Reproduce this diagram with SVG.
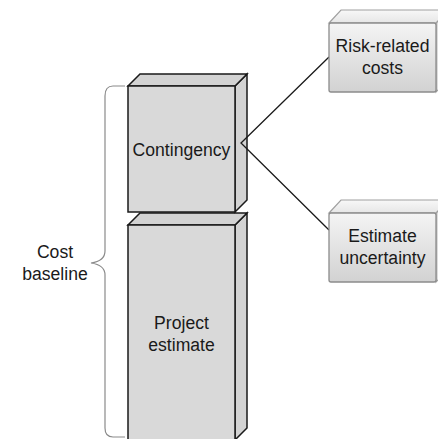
<svg xmlns="http://www.w3.org/2000/svg" width="438" height="439" viewBox="0 0 438 439">
  <defs>
    <linearGradient id="softFill" x1="0" y1="0" x2="0" y2="1">
      <stop offset="0" stop-color="#f4f4f4"/>
      <stop offset="1" stop-color="#d2d2d2"/>
    </linearGradient>
    <linearGradient id="softTop" x1="0" y1="0" x2="0" y2="1">
      <stop offset="0" stop-color="#f8f8f8"/>
      <stop offset="1" stop-color="#e6e6e6"/>
    </linearGradient>
    <style>
      .label { font-family: "Liberation Sans", Arial, sans-serif; font-size: 17.6px; fill: #1a1a1a; text-anchor: middle; }
      .block { fill: #d9d9d9; stroke: #1a1a1a; stroke-width: 1.5; stroke-linejoin: miter; }
      .blockSide { fill: #d3d3d3; stroke: #1a1a1a; stroke-width: 1.5; }
      .card { fill: url(#softFill); stroke: #8c8c8c; stroke-width: 1.3; }
      .cardTop { fill: url(#softTop); stroke: #a0a0a0; stroke-width: 1.2; }
      .cardSide { fill: #dcdcdc; stroke: #a0a0a0; stroke-width: 1.2; }
      .link { fill: none; stroke: #1a1a1a; stroke-width: 1.3; }
      .brace { fill: none; stroke: #8a8a8a; stroke-width: 1.2; }
    </style>
  </defs>

  <!-- bracket grouping both blocks -->
  <g id="cost-baseline">
    <path class="brace" d="M125,86 L113,86 Q105,86 105,96 L105,251 Q105,261 91,263 Q105,265 105,275 L105,428 Q105,437 113,437 L125,437"/>
    <text class="label" x="55" y="258">Cost</text>
    <text class="label" x="55" y="280">baseline</text>
  </g>

  <!-- stacked blocks -->
  <g id="project-estimate">
    <polygon class="blockSide" points="235,225 247,213 247,428 235,440"/>
    <polygon class="blockSide" points="128,225 140,213 247,213 235,225"/>
    <rect class="block" x="128" y="225" width="107" height="216"/>
    <text class="label" x="181.5" y="329">Project</text>
    <text class="label" x="181.5" y="351">estimate</text>
  </g>

  <g id="contingency">
    <polygon class="blockSide" points="235,86 247,74 247,200 235,212"/>
    <polygon class="blockSide" points="128,86 140,74 247,74 235,86"/>
    <rect class="block" x="128" y="86" width="107" height="126"/>
    <text class="label" x="181.5" y="156">Contingency</text>
  </g>

  <!-- connectors -->
  <g id="connectors">
    <path class="link" d="M329,57 L241,143 L329,230"/>
  </g>

  <!-- detail cards -->
  <g id="risk-related-costs">
    <polygon class="cardSide" points="436,23 448,10 448,80 436,92"/>
    <polygon class="cardTop" points="329,23 341,10 448,10 436,23"/>
    <rect class="card" x="329" y="23" width="107" height="69" rx="2"/>
    <text class="label" x="382.5" y="52">Risk-related</text>
    <text class="label" x="382.5" y="74">costs</text>
  </g>

  <g id="estimate-uncertainty">
    <polygon class="cardSide" points="436,213 448,200 448,270 436,282"/>
    <polygon class="cardTop" points="329,213 341,200 448,200 436,213"/>
    <rect class="card" x="329" y="213" width="107" height="69" rx="2"/>
    <text class="label" x="382.5" y="242">Estimate</text>
    <text class="label" x="382.5" y="264">uncertainty</text>
  </g>
</svg>
